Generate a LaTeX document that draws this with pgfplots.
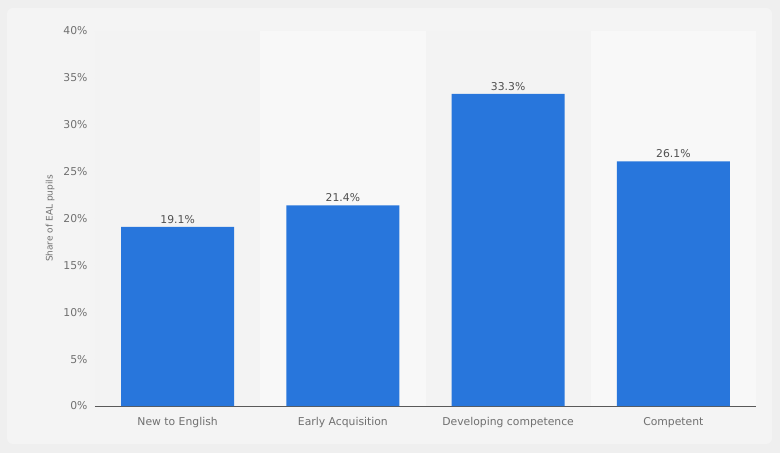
\documentclass[border=0pt]{standalone}
\usepackage{pgfplots}
\pgfplotsset{compat=1.18}
\usepackage{fontspec}
\setmainfont{DejaVu Sans}
\definecolor{bg}{HTML}{EFEFEF}
\definecolor{card}{HTML}{F4F4F4}
\definecolor{bandA}{HTML}{F3F3F3}
\definecolor{bandB}{HTML}{F8F8F8}
\definecolor{barblue}{HTML}{2876DC}
\definecolor{gridc}{HTML}{E4E4E4}
\definecolor{tickc}{HTML}{707070}
\definecolor{valc}{HTML}{505050}
\begin{document}
\begin{tikzpicture}[x=1pt,y=1pt]
\fill[bg] (-95,-47) rectangle (685,406);
\fill[card,rounded corners=6pt] (-88,-38) rectangle (677,398);
\begin{axis}[
  at={(0,0)}, anchor=south west,
  scale only axis,
  width=661pt, height=375pt,
  xmin=-0.5, xmax=3.5,
  ymin=0, ymax=40,
  xtick={0,1,2,3},
  xticklabels={New to English,Early Acquisition,Developing competence,Competent},
  ytick={0,5,10,15,20,25,30,35,40},
  yticklabel={\pgfmathprintnumber{\tick}\%},
  /pgf/number format/assume math mode=true,
  major tick length=0pt,
  axis x line*=bottom,
  x axis line style={draw=black!65, line width=0.9pt, -},
  axis y line*=left,
  y axis line style={draw=none},
  ymajorgrids=true,
  grid style={gridc, line width=0.6pt},
  ticklabel style={font=\fontsize{10.8}{12}\selectfont, text=tickc},
  yticklabel style={xshift=-4pt},
  xticklabel style={yshift=-8pt},
  ylabel={Share of EAL pupils},
  ylabel style={font=\fontsize{9}{10}\selectfont, text=tickc, at={(axis description cs:-0.068,0.5)}, anchor=center},
  ybar, bar width=113pt,
  nodes near coords={\pgfmathprintnumber[fixed,fixed zerofill,precision=1]{\pgfplotspointmeta}\%},
  nodes near coords style={font=\fontsize{10.8}{12}\selectfont, text=valc, anchor=south, yshift=0pt},
]
\fill[bandA] (axis cs:-0.5,0) rectangle (axis cs:0.5,40);
\fill[bandB] (axis cs:0.5,0) rectangle (axis cs:1.5,40);
\fill[bandA] (axis cs:1.5,0) rectangle (axis cs:2.5,40);
\fill[bandB] (axis cs:2.5,0) rectangle (axis cs:3.5,40);
\addplot[fill=barblue, draw=none] coordinates {(0,19.1) (1,21.4) (2,33.3) (3,26.1)};
\end{axis}
\end{tikzpicture}
\end{document}
